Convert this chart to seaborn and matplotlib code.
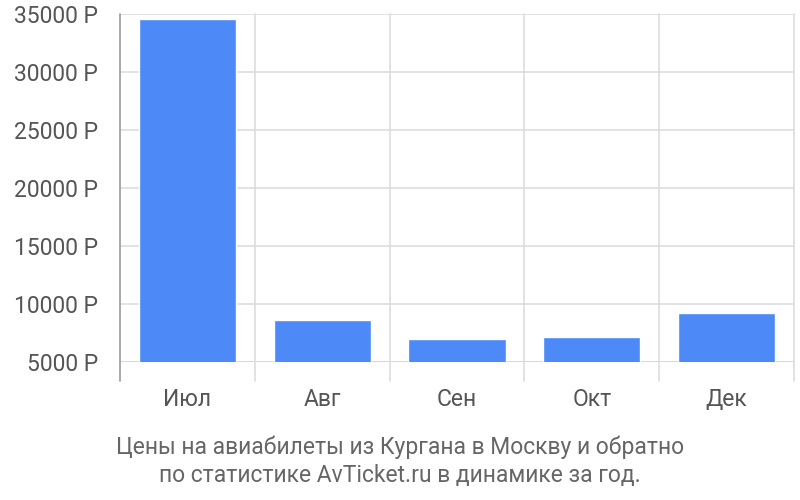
import matplotlib
matplotlib.use("Agg")
import matplotlib.pyplot as plt
import seaborn as sns
import pandas as pd

months = ["Июл", "Авг", "Сен", "Окт", "Дек"]
prices = [34540, 8590, 6970, 7170, 9160]
yticks = [5000, 10000, 15000, 20000, 25000, 30000, 35000]
ytick_labels = [f"{v} Р" for v in yticks]
title = "Цены на авиабилеты из Кургана в Москву и обратно\nпо статистике AvTicket.ru в динамике за год."

sns.set_theme(style="white")
plt.rcParams['font.family'] = ['Roboto', 'DejaVu Sans']

df = pd.DataFrame({"month": months, "price": prices})

fig = plt.figure(figsize=(8, 5), dpi=100)
ax = fig.add_axes([0.15, 0.2766, 0.8425, 0.6954])

sns.barplot(data=df, x="month", y="price", color="#4d8af7", saturation=1,
            width=0.72, ax=ax, zorder=3)

ax.set_ylim(5000, 35000)
ax.set_xlim(-0.5, len(months) - 0.5)
ax.set_yticks(yticks)
ax.set_yticklabels(ytick_labels)
ax.set_xlabel("")
ax.set_ylabel("")

for s in ["top", "right", "bottom", "left"]:
    ax.spines[s].set_visible(False)

for v in yticks:
    ax.axhline(v, color="#d0d0d0" if v == 5000 else "#dddddd", lw=1.2, zorder=1)

for i in range(len(months) + 1):
    x = i - 0.5
    ax.axvline(x, ymin=-0.055, ymax=1, color="#999999" if i == 0 else "#dddddd",
               lw=1.2, clip_on=False, zorder=1)

ax.tick_params(axis="y", length=0, pad=16, labelsize=16.5, labelcolor="#555555")
ax.tick_params(axis="x", length=0, pad=19, labelsize=16.5, labelcolor="#555555")

fig.text(0.5, 0.077, title, ha="center", va="center", fontsize=16.5,
         color="#666666", linespacing=1.3)

fig.savefig("out.png", dpi=100)
